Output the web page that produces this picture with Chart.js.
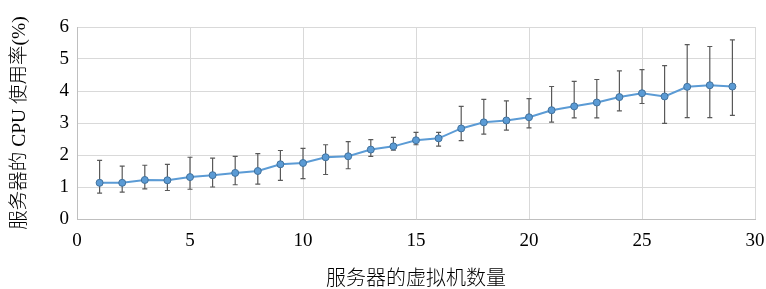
<!DOCTYPE html>
<html>
<head>
<meta charset="utf-8">
<script src="https://cdn.jsdelivr.net/npm/chart.js@4"></script>
<style>
  html, body { margin: 0; padding: 0; background: #fff; }
  #wrap { width: 766px; height: 289px; }
</style>
</head>
<body>
<div id="wrap"><canvas id="myChart" width="766" height="289"></canvas></div>
<script>
// number of VMs on the server
const vmCounts = [1, 2, 3, 4, 5, 6, 7, 8, 9, 10, 11, 12, 13, 14, 15, 16, 17, 18, 19, 20, 21, 22, 23, 24, 25, 26, 27, 28, 29];
// mean CPU usage (%)
const cpuMean = [1.13, 1.13, 1.22, 1.21, 1.31, 1.37, 1.44, 1.50, 1.71, 1.75, 1.93, 1.96, 2.17, 2.27, 2.46, 2.52, 2.83, 3.02, 3.08, 3.18, 3.40, 3.52, 3.64, 3.81, 3.93, 3.83, 4.13, 4.18, 4.14];
// error bar ends
const cpuLow = [0.81, 0.84, 0.94, 0.89, 0.93, 1.00, 1.07, 1.09, 1.21, 1.26, 1.39, 1.57, 1.96, 2.15, 2.32, 2.28, 2.45, 2.65, 2.78, 2.85, 3.03, 3.16, 3.16, 3.38, 3.61, 2.99, 3.17, 3.17, 3.24];
const cpuHigh = [1.83, 1.65, 1.68, 1.71, 1.93, 1.90, 1.96, 2.04, 2.14, 2.21, 2.32, 2.42, 2.48, 2.55, 2.71, 2.71, 3.52, 3.74, 3.69, 3.76, 4.14, 4.30, 4.36, 4.63, 4.67, 4.79, 5.45, 5.39, 5.60];

const xTicks = [0, 5, 10, 15, 20, 25, 30];
const yTicks = [0, 1, 2, 3, 4, 5, 6];

const serif = "'Liberation Serif', 'Noto Sans CJK SC', serif";

const points = vmCounts.map((x, i) => ({ x: x, y: cpuMean[i] }));

// draws error bars under the markers
const errorBars = {
    id: 'errorBars',
    beforeDatasetsDraw(chart) {
        const ctx = chart.ctx;
        const xs = chart.scales.x;
        const ys = chart.scales.y;
        ctx.save();
        ctx.strokeStyle = '#595959';
        ctx.lineWidth = 1.2;
        for (let i = 0; i < vmCounts.length; i++) {
            const px = xs.getPixelForValue(vmCounts[i]);
            const top = ys.getPixelForValue(cpuHigh[i]);
            const bot = ys.getPixelForValue(cpuLow[i]);
            ctx.beginPath();
            ctx.moveTo(px, top);
            ctx.lineTo(px, bot);
            ctx.moveTo(px - 2.5, top);
            ctx.lineTo(px + 2.5, top);
            ctx.moveTo(px - 2.5, bot);
            ctx.lineTo(px + 2.5, bot);
            ctx.stroke();
        }
        ctx.restore();
    }
};

var ctx = document.getElementById('myChart').getContext('2d');
var chart = new Chart(ctx, {
    type: 'line',
    data: {
        datasets: [{
            data: points,
            borderColor: '#5B9BD5',
            backgroundColor: '#5B9BD5',
            borderWidth: 2,
            pointRadius: 3.5,
            pointBorderColor: '#41719C',
            pointBorderWidth: 1,
            pointBackgroundColor: '#5B9BD5',
            tension: 0
        }]
    },
    options: {
        responsive: false,
        animation: false,
        layout: { padding: { top: 27, right: 0, left: 0, bottom: 0 } },
        plugins: { legend: { display: false }, tooltip: { enabled: false } },
        scales: {
            x: {
                type: 'linear',
                min: 0,
                max: 30,
                afterBuildTicks: (axis) => { axis.ticks = xTicks.map(v => ({ value: v })); },
                afterFit: (axis) => {
                    axis.height = 70;
                    axis.paddingLeft = 0;
                    axis.paddingRight = 11;
                },
                grid: { color: '#d9d9d9', drawTicks: false },
                border: { color: '#bfbfbf' },
                ticks: { color: '#000', font: { family: serif, size: 19 }, padding: 11, maxRotation: 0 },
                title: {
                    display: true,
                    text: '服务器的虚拟机数量',
                    color: '#000',
                    font: { family: serif, size: 20, weight: 300 },
                    padding: { top: 8, bottom: -3 }
                }
            },
            y: {
                min: 0,
                max: 6,
                afterBuildTicks: (axis) => { axis.ticks = yTicks.map(v => ({ value: v })); },
                afterFit: (axis) => { axis.width = 77; },
                grid: { color: '#d9d9d9', drawTicks: false },
                border: { color: '#bfbfbf' },
                ticks: { color: '#000', font: { family: serif, size: 19 }, padding: 8 },
                title: {
                    display: true,
                    text: '服务器的 CPU 使用率(%)',
                    color: '#000',
                    font: { family: serif, size: 19.5, weight: 300 },
                    padding: { top: 8, bottom: 0 }
                }
            }
        }
    },
    plugins: [errorBars]
});
</script>
</body>
</html>
